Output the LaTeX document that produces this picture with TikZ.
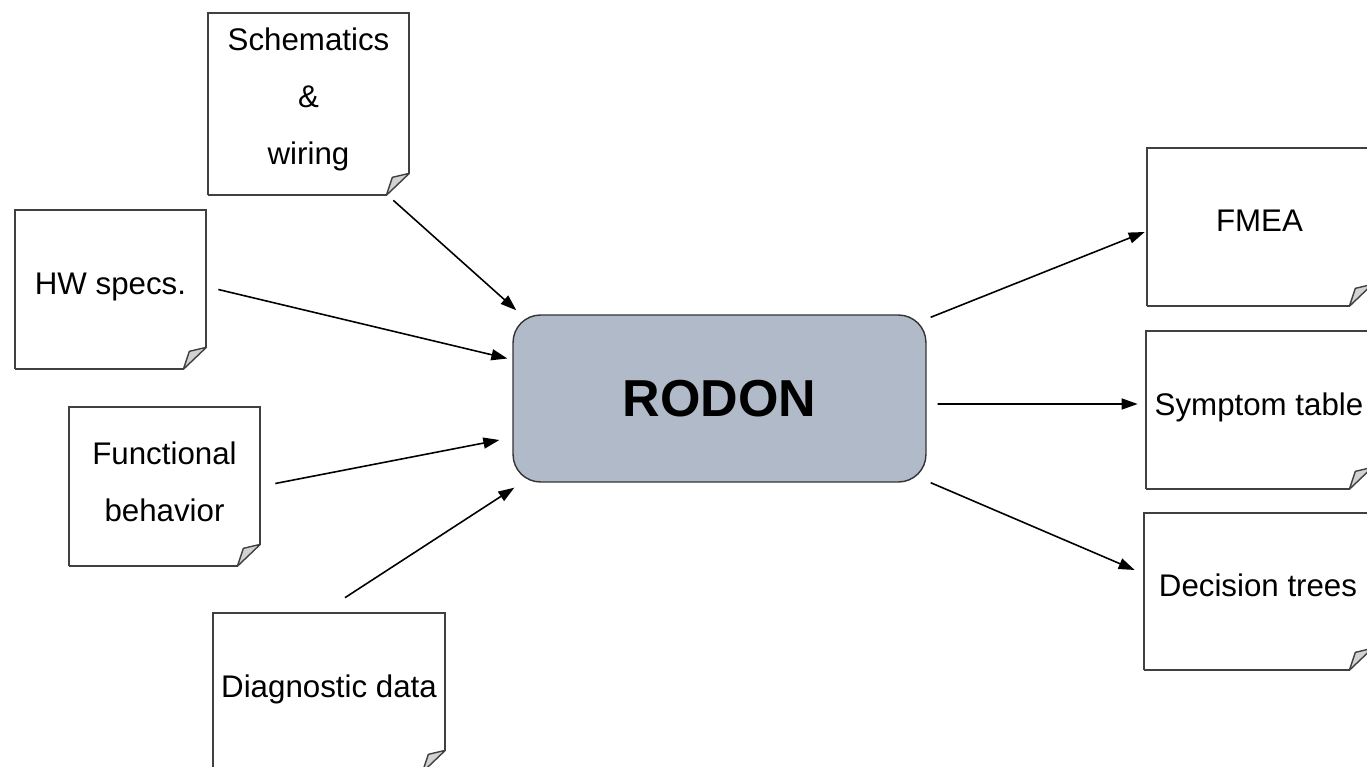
\documentclass[tikz,border=0pt]{standalone}
\usepackage{fontspec}
\setmainfont{Liberation Sans}
\usetikzlibrary{shapes,arrows.meta,calc}
\definecolor{rodongray}{RGB}{176,186,200}
\tikzset{
  page/.style={inner sep=0pt, align=center, font=\fontsize{17.8}{32.5}\selectfont},
  oneline/.style={text depth=7pt},
  pageline/.style={black!75, line width=1pt},
  fold/.style={fill=gray!35, draw=black!75, line width=0.8pt, line join=round},
  flow/.style={black, line width=0.9pt, -{Triangle[length=0.32cm,width=0.22cm]}},
}
% контур листа с загнутым углом
\newcommand\pageoutline[1]{%
  \draw[pageline] (#1.south west) -- (#1.north west) -- (#1.north east) -- ([yshift=0.44cm]#1.south east);
  \draw[pageline] (#1.south west) -- ([xshift=-0.46cm]#1.south east);
  \filldraw[fold] ([xshift=-0.46cm]#1.south east) -- ([yshift=0.44cm]#1.south east) -- ([shift={(-0.34cm,0.36cm)}]#1.south east) -- cycle;
}

\begin{document}
\begin{tikzpicture}[x=0.02cm,y=-0.02cm]
    \useasboundingbox (0,0) rectangle (1367,767);
    %центральный блок
    \node[draw=black!80, line width=0.8pt, fill=rodongray, rounded corners=0.55cm,
          minimum width=8.26cm, minimum height=3.34cm,
          font=\bfseries\fontsize{29.6}{35}\selectfont] (rodon) at (719.5,398.5) {RODON};
    %входные документы
    \node[page, text depth=8.5pt, minimum width=4.02cm, minimum height=3.64cm] (sch) at (308.5,104) {Schematics\\\&\\wiring};
    \node[page, oneline, minimum width=3.82cm, minimum height=3.18cm] (hw) at (110.5,289.5) {HW specs.};
    \node[page, text depth=5.7pt, minimum width=3.82cm, minimum height=3.18cm] (fun) at (164.5,486.5) {Functional\\behavior};
    \node[page, oneline, minimum width=4.64cm, minimum height=3.18cm] (diag) at (329,692.5) {Diagnostic data};
    %выходные документы
    \node[page, oneline, minimum width=4.50cm, minimum height=3.16cm] (fmea) at (1259.5,227) {FMEA};
    \node[page, oneline, minimum width=4.52cm, minimum height=3.16cm] (sym) at (1259,410) {Symptom table};
    \node[page, oneline, minimum width=4.56cm, minimum height=3.14cm] (dec) at (1258,591.5) {Decision trees};
    \pageoutline{sch}
    \pageoutline{hw}
    \pageoutline{fun}
    \pageoutline{diag}
    \pageoutline{fmea}
    \pageoutline{sym}
    \pageoutline{dec}
    %стрелки
    \draw[flow] ([shift={(-16,5)}]sch.south east) -- ([shift={(4,-4)}]rodon.north west);
    \draw[flow] ([shift={(12,0)}]hw.east) -- ([shift={(-5,-40)}]rodon.west);
    \draw[flow] ([shift={(15,-3)}]fun.east) -- ([shift={(-13,41.5)}]rodon.west);
    \draw[flow] ([shift={(16,-15)}]diag.north) -- ([shift={(2,5)}]rodon.south west);
    \draw[flow] ([shift={(4,3)}]rodon.north east) -- ([shift={(-2,5)}]fmea.west);
    \draw[flow] ([shift={(11,5.5)}]rodon.east) -- ([shift={(-8,-6)}]sym.west);
    \draw[flow] ([shift={(4,0)}]rodon.south east) -- ([shift={(-9,-21.5)}]dec.west);
\end{tikzpicture}
\end{document}
